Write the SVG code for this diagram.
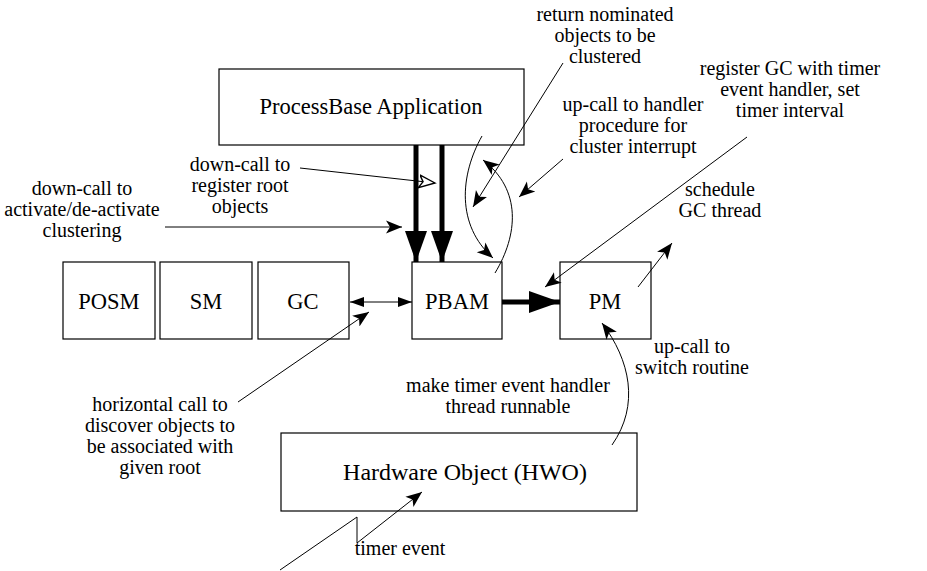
<svg xmlns="http://www.w3.org/2000/svg" width="927" height="571" viewBox="0 0 927 571">
  <style>
    .box { fill: #fff; stroke: #000; stroke-width: 1.2; }
    .lbl { font-size: 20px; fill: #000; text-anchor: middle; }
    .big { font-size: 22.5px; fill: #000; text-anchor: middle; }
    .thin { fill: none; stroke: #000; stroke-width: 1; }
    .thick { fill: none; stroke: #000; stroke-width: 5; }
  </style>
  <defs>
    <marker id="barb" markerUnits="userSpaceOnUse" markerWidth="20" markerHeight="16" refX="16" refY="6.5" orient="auto" viewBox="0 0 20 13">
      <path d="M16,6.5 L0,0 L4,6.5 L0,13 Z" fill="#000"/>
    </marker>
    <marker id="hollow" markerUnits="userSpaceOnUse" markerWidth="20" markerHeight="16" refX="16" refY="6.5" orient="auto" viewBox="0 0 20 13">
      <path d="M16,6.5 L0,0 L4,6.5 L0,13 Z" fill="#fff" stroke="#000" stroke-width="1.4"/>
    </marker>
    <marker id="tri" markerUnits="userSpaceOnUse" markerWidth="16" markerHeight="12" refX="14" refY="5" orient="auto" viewBox="0 0 16 10">
      <path d="M14,5 L0,0 L0,10 Z" fill="#000"/>
    </marker>
    <marker id="triStart" markerUnits="userSpaceOnUse" markerWidth="16" markerHeight="12" refX="0" refY="5" orient="auto" viewBox="0 0 16 10">
      <path d="M0,5 L14,0 L14,10 Z" fill="#000"/>
    </marker>
    <marker id="fat" markerUnits="userSpaceOnUse" markerWidth="32" markerHeight="24" refX="31" refY="11" orient="auto" viewBox="0 0 32 22">
      <path d="M31,11 L0,0 L0,22 Z" fill="#000"/>
    </marker>
  </defs>

  <g font-family="'Liberation Serif', 'DejaVu Serif', serif">
  <!-- modules -->
  <g id="processbase">
    <rect class="box" x="219" y="69" width="305" height="76"/>
    <text class="big" x="371" y="114">ProcessBase Application</text>
  </g>
  <g id="posm">
    <rect class="box" x="63" y="262" width="92" height="77"/>
    <text class="big" x="109" y="309">POSM</text>
  </g>
  <g id="sm">
    <rect class="box" x="160" y="262" width="92" height="77"/>
    <text class="big" x="206" y="309">SM</text>
  </g>
  <g id="gc">
    <rect class="box" x="258" y="262" width="91" height="77"/>
    <text class="big" x="303" y="309">GC</text>
  </g>
  <g id="pbam">
    <rect class="box" x="412" y="262" width="90" height="77"/>
    <text class="big" x="457" y="309">PBAM</text>
  </g>
  <g id="pm">
    <rect class="box" x="560" y="262" width="91" height="77"/>
    <text class="big" x="605" y="309">PM</text>
  </g>
  <g id="hwo">
    <rect class="box" x="281" y="433" width="356" height="78"/>
    <text class="big" x="465" y="480" style="font-size:24px">Hardware Object (HWO)</text>
  </g>

  <!-- calls between modules -->
  <g id="connectors">
    <line class="thick" x1="416" y1="145" x2="416" y2="262" marker-end="url(#fat)"/>
    <line class="thick" x1="442" y1="145" x2="442" y2="262" marker-end="url(#fat)"/>
    <line class="thick" x1="502" y1="302" x2="560" y2="302" marker-end="url(#fat)"/>
    <line class="thin" x1="350" y1="302" x2="412" y2="302" marker-start="url(#triStart)" marker-end="url(#tri)"/>
    <line class="thin" x1="238" y1="402" x2="369" y2="312" marker-end="url(#barb)"/>
    <line class="thin" x1="300" y1="168" x2="435" y2="183" marker-end="url(#hollow)"/>
    <line class="thin" x1="165" y1="227" x2="402" y2="227" marker-end="url(#barb)"/>
    <line class="thin" x1="563" y1="63" x2="473" y2="207" marker-end="url(#barb)"/>
    <line class="thin" x1="563" y1="159" x2="519" y2="197" marker-end="url(#barb)"/>
    <path class="thin" d="M482,136 C460,175 456,225 493,258" marker-end="url(#barb)"/>
    <path class="thin" d="M495,273 C518,235 522,190 483,160" marker-end="url(#barb)"/>
    <line class="thin" x1="747" y1="137" x2="545" y2="287" marker-end="url(#barb)"/>
    <line class="thin" x1="638" y1="287" x2="672" y2="243" marker-end="url(#barb)"/>
    <path class="thin" d="M612,445 C640,405 630,360 602,323" marker-end="url(#barb)"/>
    <path class="thin" d="M280,570 L357,517 L357,543 L422,492" marker-end="url(#barb)"/>
  </g>

  <!-- annotations -->
  <g id="labels">
    <text class="lbl" x="605" y="21">return nominated</text>
    <text class="lbl" x="605" y="42">objects to be</text>
    <text class="lbl" x="605" y="63">clustered</text>

    <text class="lbl" x="633" y="111">up-call to handler</text>
    <text class="lbl" x="633" y="132">procedure for</text>
    <text class="lbl" x="633" y="153">cluster interrupt</text>

    <text class="lbl" x="790" y="75">register GC with timer</text>
    <text class="lbl" x="790" y="96">event handler, set</text>
    <text class="lbl" x="790" y="117">timer interval</text>

    <text class="lbl" x="240" y="171">down-call to</text>
    <text class="lbl" x="240" y="192">register root</text>
    <text class="lbl" x="240" y="213">objects</text>

    <text class="lbl" x="82" y="195">down-call to</text>
    <text class="lbl" x="82" y="216">activate/de-activate</text>
    <text class="lbl" x="82" y="237">clustering</text>

    <text class="lbl" x="720" y="196">schedule</text>
    <text class="lbl" x="720" y="217">GC thread</text>

    <text class="lbl" x="692" y="353">up-call to</text>
    <text class="lbl" x="692" y="374">switch routine</text>

    <text class="lbl" x="508" y="392">make timer event handler</text>
    <text class="lbl" x="508" y="413">thread runnable</text>

    <text class="lbl" x="160" y="411">horizontal call to</text>
    <text class="lbl" x="160" y="432">discover objects to</text>
    <text class="lbl" x="160" y="453">be associated with</text>
    <text class="lbl" x="160" y="474">given root</text>

    <text class="lbl" x="400" y="555">timer event</text>
  </g>
  </g>
</svg>
